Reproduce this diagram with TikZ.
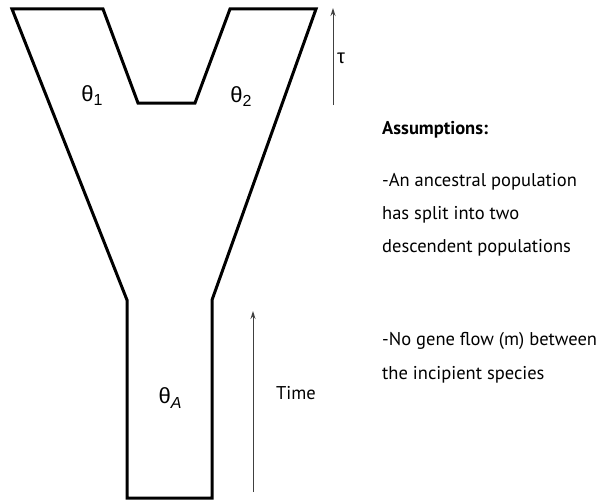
\documentclass[tikz,border=0pt]{standalone}
\usepackage{fontspec}
\setmainfont{PT Sans}
\newfontfamily\symfont{Liberation Sans}
\usetikzlibrary{arrows.meta}
\begin{document}
\begin{tikzpicture}[x=1pt,y=-1pt,
  pop/.style={line width=3pt, line join=miter},
  axis/.style={line width=1pt, draw=black!75, -{Stealth[length=8pt,width=5pt]}},
  sym/.style={font=\symfont\fontsize{22}{24}\selectfont, inner sep=0pt},
  txt/.style={font=\fontsize{18.5}{20}\selectfont, anchor=west, inner sep=0pt}]
\useasboundingbox (0,0) rectangle (600,503);
% outline of the populations
\coordinate (tl1) at (12,9);
\coordinate (tl2) at (103,9);
\coordinate (il) at (138,103);
\coordinate (ir) at (195,103);
\coordinate (tr1) at (230,9);
\coordinate (tr2) at (316,9);
\coordinate (nr) at (212,300);
\coordinate (br) at (212,498);
\coordinate (bl) at (127,498);
\coordinate (nl) at (127,300);
\draw[pop] (tl2) -- (tl1) -- (nl) -- (bl) -- (br) -- (nr) -- (tr2) -- (tr1) -- (ir) -- (il) -- cycle;
% labels
\node[sym] (t1) at (92,96) {θ\raisebox{-0.35ex}{\fontsize{16}{18}\selectfont 1}};
\node[sym] (t2) at (241,97) {θ\raisebox{-0.35ex}{\fontsize{16}{18}\selectfont 2}};
\node[sym] (tA) at (170,398) {θ\raisebox{-0.4ex}{\fontsize{16}{18}\selectfont\itshape A}};
% arrows
\coordinate (tauS) at (333,105);
\coordinate (tauE) at (333,8);
\draw[axis] (tauS) -- (tauE);
\node[sym, font=\symfont\fontsize{20}{22}\selectfont] (tau) at (341,58) {τ};
\coordinate (timeS) at (253,492);
\coordinate (timeE) at (253,311);
\draw[axis] (timeS) -- (timeE);
\node[txt] (time) at (276,393) {Time};
% assumptions
\node[txt, font=\bfseries\fontsize{18.5}{20}\selectfont] (ass) at (382,130) {Assumptions:};
\node[txt] (a1) at (382,182) {-An ancestral population};
\node[txt] (a2) at (382,215) {has split into two};
\node[txt] (a3) at (382,248) {descendent populations};
\node[txt] (b1) at (382,341) {-No gene flow (m) between};
\node[txt] (b2) at (382,375) {the incipient species};
\end{tikzpicture}
\end{document}
